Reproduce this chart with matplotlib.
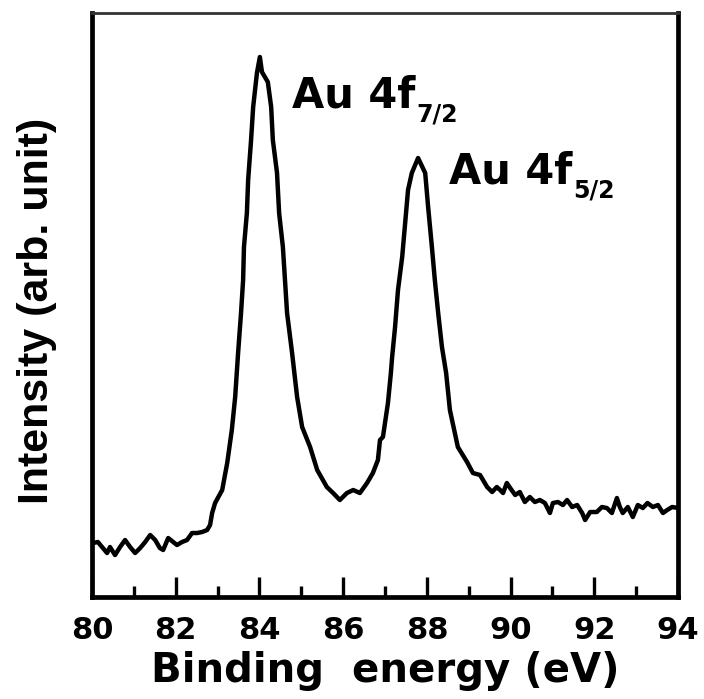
import numpy as np
import matplotlib.pyplot as plt
from matplotlib.ticker import MultipleLocator


# Au 4f core-level spectrum (binding energy in eV, intensity in arb. units)
energy = [
    80.02, 80.14, 80.26, 80.36, 80.43, 80.55, 80.67, 80.79, 80.91, 81.03,
    81.15, 81.27, 81.39, 81.51, 81.62, 81.70, 81.82, 81.94, 82.03, 82.15,
    82.27, 82.39, 82.51, 82.63, 82.75, 82.82, 82.87, 82.94, 83.11, 83.23,
    83.34, 83.42, 83.49, 83.56, 83.61, 83.63, 83.70, 83.73, 83.80, 83.85,
    83.94, 84.01, 84.06, 84.20, 84.28, 84.32, 84.42, 84.47, 84.56, 84.61,
    84.66, 84.78, 84.90, 85.02, 85.21, 85.38, 85.61, 85.76, 85.92, 86.09,
    86.24, 86.40, 86.57, 86.71, 86.83, 86.88, 86.95, 87.07, 87.14, 87.17,
    87.24, 87.31, 87.41, 87.48, 87.55, 87.64, 87.79, 87.96, 88.03, 88.12,
    88.19, 88.27, 88.36, 88.46, 88.55, 88.74, 88.96, 89.10, 89.27, 89.34,
    89.44, 89.56, 89.67, 89.75, 89.82, 89.91, 89.99, 90.11, 90.22, 90.34,
    90.46, 90.58, 90.70, 90.82, 90.94, 91.01, 91.13, 91.25, 91.35, 91.47,
    91.59, 91.71, 91.78, 91.90, 92.06, 92.18, 92.30, 92.42, 92.54, 92.61,
    92.68, 92.80, 92.92, 93.04, 93.16, 93.27, 93.40, 93.52, 93.64, 93.74,
    93.86, 94.00,
]
intensity = [
    54, 55, 49, 44, 50, 42, 50, 57, 50, 44,
    49, 55, 62, 57, 49, 47, 59, 55, 52, 55,
    57, 64, 64, 65, 67, 72, 84, 94, 107, 134,
    167, 200, 244, 284, 317, 350, 384, 417, 457, 490,
    524, 540, 525, 515, 490, 457, 424, 384, 350, 317,
    284, 244, 200, 170, 150, 127, 110, 104, 97, 104,
    107, 104, 114, 124, 137, 157, 160, 194, 224, 240,
    270, 307, 340, 374, 407, 424, 439, 424, 390, 350,
    317, 284, 250, 224, 187, 150, 135, 124, 122, 117,
    110, 105, 110, 107, 104, 114, 109, 102, 105, 95,
    100, 95, 97, 94, 84, 94, 95, 92, 97, 90,
    92, 84, 77, 85, 85, 90, 89, 84, 99, 90,
    84, 90, 80, 92, 89, 94, 90, 92, 84, 87,
    90, 89,
]

x_ticks = [80, 82, 84, 86, 88, 90, 92, 94]

peak_labels = [
    # (text, subscript, energy, intensity of text baseline)
    ("Au 4f", "7/2", 84.77, 490),
    ("Au 4f", "5/2", 88.52, 414),
]

fig = plt.figure(figsize=(7.04, 6.99), dpi=100)
ax = fig.add_axes([0.1307, 0.1459, 0.8324, 0.8355])

ax.plot(energy, intensity, color="black", lw=3.2, solid_joinstyle="round")

ax.set_xlim(80, 94)
ax.set_ylim(0, 584)
ax.xaxis.set_major_locator(MultipleLocator(2))
ax.xaxis.set_minor_locator(MultipleLocator(1))
ax.set_xticks(x_ticks)
ax.set_yticks([])

ax.tick_params(axis="x", which="major", direction="in", length=14.5,
               width=2.4, pad=14, labelsize=22)
ax.tick_params(axis="x", which="minor", direction="in", length=8, width=2.4)
for lbl in ax.get_xticklabels():
    lbl.set_fontfamily("DejaVu Sans")
    lbl.set_fontweight("bold")

for side in ("left", "right", "bottom"):
    ax.spines[side].set_linewidth(3.4)
ax.spines["top"].set_linewidth(2)
ax.spines["top"].set_color("#333333")

ax.set_xlabel("Binding  energy (eV)", fontsize=29, fontweight="bold",
              family="DejaVu Sans", labelpad=4)
ax.set_ylabel("Intensity (arb. unit)", fontsize=31, fontweight="bold",
              family="Liberation Sans")
ax.yaxis.set_label_coords(-0.06, 0.49)

for main, sub, e, y in peak_labels:
    t = ax.text(e, y, main, fontsize=30, fontweight="bold",
                family="DejaVu Sans", ha="left", va="baseline")
    ax.annotate(sub, xy=(1, 0), xycoords=t, xytext=(1, -4),
                textcoords="offset points", fontsize=17, fontweight="bold",
                family="DejaVu Sans", ha="left", va="baseline")

fig.savefig("out.png", dpi=100)
